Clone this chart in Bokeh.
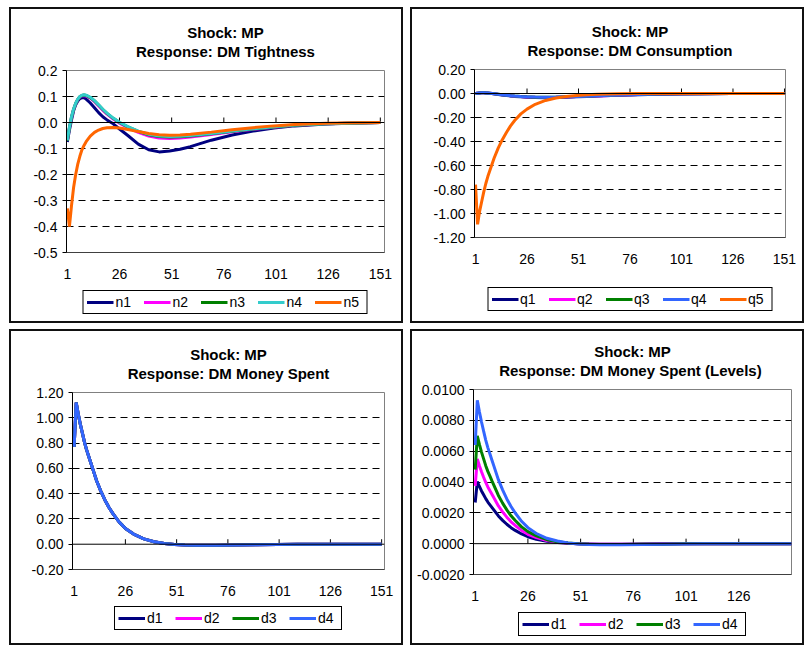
import math
from bokeh.plotting import figure
from bokeh.models import (Range1d, FixedTicker, NumeralTickFormatter, Span, Legend,
                          LegendItem, Title)
from bokeh.layouts import row, column
from bokeh.embed import file_html
from bokeh.resources import INLINE

# ---------------- data ----------------
T = [1, 2, 3, 4, 5, 6, 7, 8, 9, 10, 12, 14, 16, 18, 20, 23, 26, 30, 35, 40,
     45, 50, 55, 60, 70, 80, 90, 100, 110, 125, 140, 151]

n1 = [-0.075, -0.03, 0.01, 0.045, 0.068, 0.083, 0.092, 0.096, 0.095, 0.09, 0.075, 0.057,
      0.038, 0.022, 0.01, -0.005, -0.025, -0.05, -0.083, -0.105, -0.113, -0.11, -0.103,
      -0.093, -0.068, -0.048, -0.033, -0.021, -0.013, -0.006, -0.002, 0.0]
n2 = [-0.07, -0.02, 0.02, 0.05, 0.072, 0.088, 0.098, 0.103, 0.104, 0.102, 0.094, 0.08,
      0.064, 0.047, 0.032, 0.013, -0.003, -0.02, -0.038, -0.052, -0.06, -0.062, -0.06,
      -0.056, -0.046, -0.036, -0.026, -0.018, -0.011, -0.005, -0.002, 0.0]
n3 = [-0.07, -0.02, 0.021, 0.051, 0.073, 0.089, 0.099, 0.104, 0.106, 0.104, 0.096, 0.083,
      0.067, 0.05, 0.035, 0.016, 0.0, -0.017, -0.034, -0.047, -0.054, -0.056, -0.055,
      -0.052, -0.043, -0.034, -0.025, -0.017, -0.011, -0.005, -0.002, 0.0]
n4 = [-0.068, -0.018, 0.022, 0.052, 0.074, 0.09, 0.1, 0.105, 0.107, 0.105, 0.097, 0.084,
      0.068, 0.051, 0.036, 0.017, 0.001, -0.016, -0.033, -0.045, -0.052, -0.054, -0.053,
      -0.05, -0.042, -0.033, -0.024, -0.016, -0.01, -0.005, -0.002, 0.0]
n5 = [-0.33, -0.40, -0.32, -0.25, -0.20, -0.16, -0.13, -0.105, -0.088, -0.074, -0.052,
      -0.038, -0.029, -0.023, -0.02, -0.019, -0.021, -0.027, -0.035, -0.042, -0.047,
      -0.049, -0.048, -0.045, -0.037, -0.028, -0.02, -0.013, -0.008, -0.003, -0.001, 0.0]

q1 = [0.0, 0.003, 0.005, 0.006, 0.006, 0.005, 0.003, 0.001, -0.001, -0.003, -0.008,
      -0.012, -0.016, -0.02, -0.024, -0.028, -0.031, -0.034, -0.035, -0.034, -0.031,
      -0.028, -0.024, -0.021, -0.015, -0.01, -0.006, -0.004, -0.002, -0.001, 0.0, 0.0]
q2 = [0.0, 0.003, 0.005, 0.006, 0.006, 0.005, 0.004, 0.002, 0.0, -0.002, -0.007,
      -0.011, -0.015, -0.019, -0.022, -0.026, -0.029, -0.032, -0.033, -0.032, -0.029,
      -0.026, -0.023, -0.02, -0.014, -0.009, -0.005, -0.003, -0.002, -0.001, 0.0, 0.0]
q3 = [0.0, 0.003, 0.005, 0.006, 0.006, 0.005, 0.004, 0.002, 0.0, -0.002, -0.006,
      -0.01, -0.014, -0.018, -0.021, -0.025, -0.028, -0.031, -0.032, -0.031, -0.028,
      -0.025, -0.022, -0.019, -0.013, -0.009, -0.005, -0.003, -0.002, -0.001, 0.0, 0.0]
q4 = [0.0, 0.003, 0.005, 0.006, 0.006, 0.005, 0.004, 0.002, 0.0, -0.002, -0.006,
      -0.01, -0.014, -0.018, -0.021, -0.025, -0.028, -0.03, -0.031, -0.03, -0.028,
      -0.025, -0.022, -0.019, -0.013, -0.009, -0.005, -0.003, -0.002, -0.001, 0.0, 0.0]
q5 = [-0.76, -1.09, -0.98, -0.90, -0.82, -0.75, -0.69, -0.64, -0.59, -0.54, -0.455,
      -0.385, -0.325, -0.27, -0.225, -0.17, -0.13, -0.09, -0.058, -0.037, -0.025, -0.017,
      -0.011, -0.007, -0.003, -0.001, 0.0, 0.0, 0.0, 0.0, 0.0, 0.0]

dp1 = [0.77, 1.12, 1.03, 0.95, 0.88, 0.81, 0.75, 0.70, 0.65, 0.60, 0.50, 0.42, 0.35,
       0.29, 0.24, 0.175, 0.125, 0.08, 0.042, 0.02, 0.006, -0.002, -0.006, -0.008,
       -0.008, -0.006, -0.004, -0.002, -0.001, 0.0, 0.0, 0.0]
dp2 = [0.77, 1.12, 1.03, 0.95, 0.88, 0.81, 0.75, 0.70, 0.65, 0.60, 0.50, 0.42, 0.35,
       0.29, 0.24, 0.175, 0.125, 0.08, 0.042, 0.02, 0.006, -0.002, -0.006, -0.008,
       -0.008, -0.006, -0.004, -0.002, -0.001, 0.0, 0.0, 0.0]
dp3 = [0.77, 1.12, 1.03, 0.95, 0.88, 0.81, 0.75, 0.70, 0.65, 0.60, 0.50, 0.42, 0.35,
       0.29, 0.24, 0.175, 0.125, 0.08, 0.042, 0.02, 0.006, -0.002, -0.006, -0.008,
       -0.008, -0.006, -0.004, -0.002, -0.001, 0.0, 0.0, 0.0]
dp4 = [0.77, 1.12, 1.03, 0.95, 0.88, 0.81, 0.75, 0.70, 0.65, 0.60, 0.50, 0.42, 0.35,
       0.29, 0.24, 0.175, 0.125, 0.08, 0.042, 0.02, 0.006, -0.002, -0.006, -0.008,
       -0.008, -0.006, -0.004, -0.002, -0.001, 0.0, 0.0, 0.0]

dl1 = [0.00267, 0.00403, 0.00371, 0.00342, 0.00317, 0.00292, 0.0027, 0.00252, 0.00234,
       0.00216, 0.0018, 0.00151, 0.00126, 0.00104, 0.00086, 0.00063, 0.00045, 0.00029,
       0.00015, 0.00007, 0.00002, -0.00001, -0.00002, -0.00003, -0.00003, -0.00002,
       -0.00001, -0.00001, 0.0, 0.0, 0.0, 0.0]
dl2 = [0.00375, 0.00549, 0.00505, 0.00466, 0.00431, 0.00397, 0.00368, 0.00343, 0.00319,
       0.00294, 0.00245, 0.00206, 0.00172, 0.00142, 0.00118, 0.00086, 0.00061, 0.00039,
       0.00021, 0.0001, 0.00003, -0.00001, -0.00003, -0.00004, -0.00004, -0.00003,
       -0.00002, -0.00001, 0.0, 0.0, 0.0, 0.0]
dl3 = [0.0048, 0.0070, 0.00644, 0.00594, 0.0055, 0.00506, 0.00469, 0.00438, 0.00406,
       0.00375, 0.00313, 0.00263, 0.00219, 0.00181, 0.0015, 0.00109, 0.00078, 0.0005,
       0.00026, 0.000125, 0.00004, -0.00001, -0.00004, -0.00005, -0.00005, -0.00004,
       -0.00003, -0.00001, -0.00001, 0.0, 0.0, 0.0]
dl4 = [0.0064, 0.0093, 0.00855, 0.00789, 0.0073, 0.00672, 0.00623, 0.00581, 0.0054,
       0.00498, 0.00415, 0.00349, 0.0029, 0.00241, 0.00199, 0.00145, 0.00104, 0.00066,
       0.00035, 0.00017, 0.00005, -0.00002, -0.00005, -0.00007, -0.00007, -0.00005,
       -0.00003, -0.00002, -0.00001, 0.0, 0.0, 0.0]

X_TICKS = [1, 26, 51, 76, 101, 126, 151]
X_TICKS_LEVELS = [1, 26, 51, 76, 101, 126]

Y_TICKS_N = [-0.5, -0.4, -0.3, -0.2, -0.1, 0.0, 0.1, 0.2]
Y_TICKS_Q = [-1.2, -1.0, -0.8, -0.6, -0.4, -0.2, 0.0, 0.2]
Y_TICKS_DP = [-0.2, 0.0, 0.2, 0.4, 0.6, 0.8, 1.0, 1.2]
Y_TICKS_DL = [-0.002, 0.0, 0.002, 0.004, 0.006, 0.008, 0.010]

SHOCK = "Shock: MP"
TITLES = ["Response: DM Tightness", "Response: DM Consumption",
          "Response: DM Money Spent", "Response: DM Money Spent  (Levels)"]

NAVY, MAGENTA, GREEN, CYAN, ORANGE, BLUE = ("#000080", "#FF00FF", "#008000",
                                            "#33CCCC", "#FF6600", "#3366FF")

FONT = "Liberation Sans"
INNER_H = 312
AXIS_H = 36


def title(text, size="15px"):
    return Title(text=text, align="center", text_font=FONT, text_font_size=size,
                 text_font_style="bold", text_color="black", standoff=0)


def panel(subtitle, series, names, colors, xr, yticks, yfmt, xticks,
          frame, borders, legend_gap):
    fw, fh = frame
    left, right, top = borders
    p = figure(frame_width=fw, frame_height=fh, x_range=Range1d(*xr),
               y_range=Range1d(yticks[0], yticks[-1]),
               min_border_left=left, min_border_right=right,
               min_border_top=top, min_border_bottom=AXIS_H,
               output_backend="svg", toolbar_location=None,
               background_fill_color="white", border_fill_color="white",
               outline_line_color="#808080", outline_line_width=1)
    p.title.visible = False

    # grid: dashed at inner non-zero ticks
    p.xgrid.visible = False
    p.ygrid.ticker = FixedTicker(ticks=[v for v in yticks[1:-1] if v != 0])
    p.ygrid.grid_line_color = "black"
    p.ygrid.grid_line_dash = "7 5"
    p.ygrid.grid_line_width = 1

    # axes
    xa = p.xaxis[0]
    xa.ticker = FixedTicker(ticks=xticks)
    xa.major_tick_in = 0
    xa.major_tick_out = 0
    xa.minor_tick_line_color = None
    xa.axis_line_color = "#404040"
    xa.major_label_standoff = 16
    xa.major_label_text_font = FONT
    xa.major_label_text_font_size = "14px"
    xa.major_label_text_color = "black"

    ya = p.yaxis[0]
    ya.ticker = FixedTicker(ticks=yticks)
    ya.formatter = NumeralTickFormatter(format=yfmt)
    ya.major_tick_in = 0
    ya.major_tick_out = 4
    ya.major_tick_line_color = "black"
    ya.minor_tick_line_color = None
    ya.axis_line_color = "black"
    ya.major_label_standoff = 5
    ya.major_label_text_font = FONT
    ya.major_label_text_font_size = "14px"
    ya.major_label_text_color = "black"

    # zero axis line with upward tick marks
    p.add_layout(Span(location=0, dimension="width", line_color="black", line_width=1))
    p.ray(x=xticks[1:], y=[0] * (len(xticks) - 1), length=5, length_units="screen",
          angle=math.pi / 2, line_color="black", line_width=1)

    for s, c in zip(series, colors):
        p.line(T, s, line_color=c, line_width=3)

    # titles: spacer nearest the frame, then response line, then shock line
    p.add_layout(title(" ", "8px"), "above")
    p.add_layout(title(subtitle), "above")
    p.add_layout(title(SHOCK), "above")

    # legend strip under the chart (same horizontal frame as the chart);
    # its lines are the same series, kept outside the strip's visible x range
    lh = INNER_H - top - fh - AXIS_H
    lp = figure(frame_width=fw, frame_height=lh, min_border_left=left,
                min_border_right=right, min_border_top=0, min_border_bottom=0,
                x_axis_type=None, y_axis_type=None, x_range=Range1d(-3, -2),
                y_range=Range1d(0, 1), output_backend="svg", toolbar_location=None,
                outline_line_color=None, background_fill_color="white",
                border_fill_color="white")
    lp.title.visible = False
    lp.xgrid.visible = False
    lp.ygrid.visible = False
    items = []
    for s, nm, c in zip(series, names, colors):
        r = lp.line(T, s, line_color=c, line_width=3)
        items.append(LegendItem(label=nm, renderers=[r]))
    leg = Legend(items=items, orientation="horizontal", location="top_center",
                 border_line_color="black", border_line_width=1, border_line_alpha=1.0,
                 label_text_font=FONT, label_text_font_size="14px",
                 label_text_color="black",
                 glyph_width=27, glyph_height=16, label_height=16, label_standoff=2,
                 spacing=8, padding=3, margin=legend_gap, background_fill_color="white",
                 background_fill_alpha=1.0)
    lp.add_layout(leg, "center")

    return column(p, lp, spacing=0, styles={"border": "2px solid #111"})


p1 = panel(TITLES[0], [n1, n2, n3, n4, n5], ["n1", "n2", "n3", "n4", "n5"],
           [NAVY, MAGENTA, GREEN, CYAN, ORANGE], (0.6, 153.0), Y_TICKS_N, "0.0",
           X_TICKS, (318, 182), (55, 17, 61), 2)
p2 = panel(TITLES[1], [q1, q2, q3, q4, q5], ["q1", "q2", "q3", "q4", "q5"],
           [NAVY, MAGENTA, GREEN, BLUE, ORANGE], (0.5, 151.5), Y_TICKS_Q, "0.00",
           X_TICKS, (311, 168), (62, 17, 60), 14)
p3 = panel(TITLES[2], [dp1, dp2, dp3, dp4], ["d1", "d2", "d3", "d4"],
           [NAVY, MAGENTA, GREEN, BLUE], (0.2, 152.4), Y_TICKS_DP, "0.00",
           X_TICKS, (312, 177), (61, 17, 61), 1)
p4 = panel(TITLES[3], [dl1, dl2, dl3, dl4], ["d1", "d2", "d3", "d4"],
           [NAVY, MAGENTA, GREEN, BLUE], (0.2, 151.0), Y_TICKS_DL, "0.0000",
           X_TICKS_LEVELS, (318, 185), (61, 11, 58), 2)

layout = column(row(p1, p2, spacing=7), row(p3, p4, spacing=7), spacing=6,
                margin=(7, 0, 0, 9))

open("out.html", "w").write(file_html(layout, INLINE))
